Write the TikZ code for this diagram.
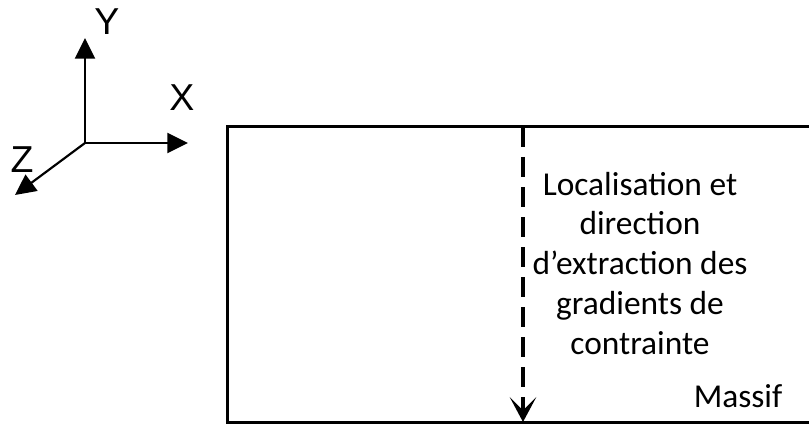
\documentclass[tikz,border=0pt]{standalone}
\usepackage{fontspec}
\setmainfont{Carlito}
\newfontfamily\axisfont{Liberation Sans}
\usepackage{xcolor}
\usetikzlibrary{arrows.meta,positioning,calc}
\definecolor{ink}{HTML}{000000}
\tikzset{
  axisarrow/.style={
    -{Triangle[length=0.62cm, width=0.6cm]}, line width=0.065cm, color=ink
  },
  axislabel/.style={
    font=\axisfont\fontsize{32}{38}\selectfont, color=ink, inner sep=0pt
  },
  massifedge/.style={line width=0.09cm, color=ink},
  cutline/.style={
    -{Stealth[length=0.75cm, width=0.8cm, inset=0.4cm]}, line width=0.12cm,
    dash pattern=on 0.6cm off 0.3cm, color=ink
  },
  notelabel/.style={
    font=\fontsize{28.5}{34}\selectfont, align=center, color=ink,
    inner sep=0pt
  },
}

\begin{document}
\begin{tikzpicture}
  \useasboundingbox (0,0) rectangle (24.27,12.75);
  % repere
  \coordinate (o) at (2.55,8.46);
  \coordinate (ytip) at (2.55,11.61);
  \coordinate (xtip) at (5.64,8.46);
  \coordinate (ztip) at (0.45,6.90);
  \draw[axisarrow] (o) -- (ytip);
  \draw[axisarrow] (o) -- (xtip);
  \draw[axisarrow] (o) -- (ztip);
  \node[axislabel] (ylab) at (3.21,12.09) {Y};
  \node[axislabel] (xlab) at (5.46,9.81) {X};
  \node[axislabel] (zlab) at (0.66,7.95) {Z};
  % massif
  \coordinate (tl) at (6.81,8.94);
  \coordinate (bl) at (6.81,0.09);
  \coordinate (tr) at (24.27,8.94);
  \coordinate (br) at (24.27,0.09);
  \draw[massifedge] (tr) -- (tl) -- (bl) -- (br);
  \coordinate (cuttop) at (15.69,8.94);
  \coordinate (cutbot) at (15.69,0.09);
  \draw[cutline] (cuttop) -- (cutbot);
  \node[notelabel] (note) at (19.2,4.85)
    {Localisation et\\direction\\d’extraction des\\gradients de\\contrainte};
  \node[notelabel, anchor=base] (massif) at (22.14,0.54) {Massif};
\end{tikzpicture}
\end{document}
